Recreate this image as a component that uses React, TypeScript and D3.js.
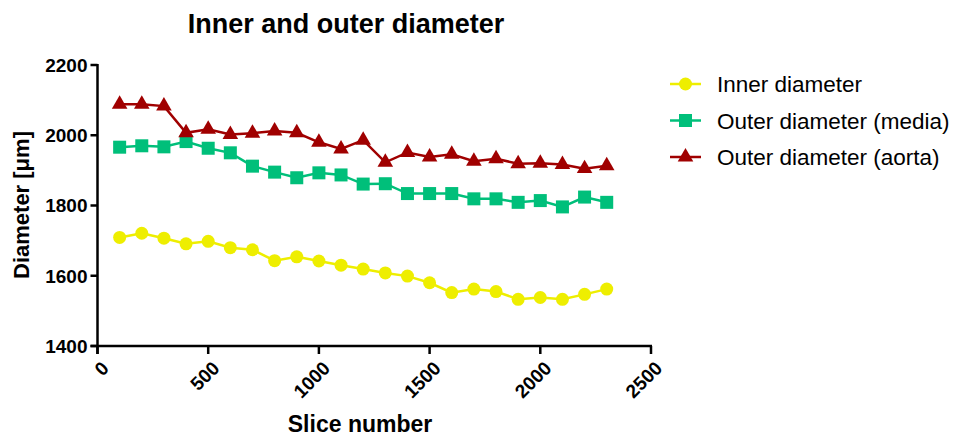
import React from "react";
import * as d3 from "d3";

const slices = [100, 200, 300, 400, 500, 600, 700, 800, 900, 1000, 1100, 1200, 1300, 1400, 1500, 1600, 1700, 1800, 1900, 2000, 2100, 2200, 2300];
const inner = [1709, 1721, 1707, 1691, 1698, 1680, 1674, 1643, 1654, 1642, 1630, 1619, 1608, 1599, 1580, 1552, 1562, 1555, 1533, 1538, 1533, 1547, 1562];
const media = [1966, 1970, 1967, 1982, 1963, 1950, 1912, 1895, 1879, 1893, 1887, 1861, 1862, 1834, 1834, 1834, 1819, 1819, 1809, 1814, 1796, 1824, 1809];
const aorta = [2088, 2088, 2083, 2007, 2017, 2002, 2006, 2012, 2007, 1980, 1961, 1986, 1923, 1951, 1938, 1946, 1926, 1933, 1919, 1920, 1917, 1905, 1913];
const seriesNames = ["Inner diameter", "Outer diameter (media)", "Outer diameter (aorta)"];
const seriesColors = ["#EEEE00", "#00BF7A", "#A00000"];
const seriesShapes = ["circle", "square", "triangle"];
const xTicks = [0, 500, 1000, 1500, 2000, 2500];
const yTicks = [1400, 1600, 1800, 2000, 2200];

const W = 954, H = 439;
const FONT = "Liberation Sans, Arial, sans-serif";

function Marker({ shape, x, y, color }: { shape: string; x: number; y: number; color: string }) {
  if (shape === "circle") return <circle cx={x} cy={y} r={6.5} fill={color} />;
  if (shape === "square") return <rect x={x - 6.5} y={y - 6.5} width={13} height={13} fill={color} />;
  const sym = d3.symbol().type(d3.symbolTriangle).size(105)();
  return <path d={sym || ""} transform={`translate(${x},${y})`} fill={color} />;
}

export default function App() {
  const x = d3.scaleLinear().domain([0, 2500]).range([97.5, 651]);
  const y = d3.scaleLinear().domain([1400, 2200]).range([346, 65]);
  const data = [inner, media, aorta];
  const line = d3.line<number>().x((_, i) => x(slices[i])).y((d) => y(d));
  const legendY = [84, 120.5, 157];

  return (
    <svg width={W} height={H} style={{ position: "absolute", left: 0, top: 0, background: "#fff" }} fontFamily={FONT}>
      <text x={346} y={33} textAnchor="middle" fontSize={27} fontWeight="bold">Inner and outer diameter</text>
      {/* Y axis */}
      <line x1={x(0)} x2={x(0)} y1={y(2200) - 1} y2={y(1400) + 8} stroke="#000" strokeWidth={2.5} />
      {yTicks.map((t) => (
        <g key={t}>
          <line x1={x(0) - 7} x2={x(0)} y1={y(t)} y2={y(t)} stroke="#000" strokeWidth={2.5} />
          <text x={x(0) - 10} y={y(t)} dy="0.36em" textAnchor="end" fontSize={19} fontWeight="bold">{t}</text>
        </g>
      ))}
      {/* X axis */}
      <line x1={x(0) - 7} x2={x(2500) + 1} y1={y(1400)} y2={y(1400)} stroke="#000" strokeWidth={2.5} />
      {xTicks.map((t) => (
        <g key={t}>
          <line x1={x(t)} x2={x(t)} y1={y(1400)} y2={y(1400) + 8} stroke="#000" strokeWidth={2.5} />
          <text transform={`translate(${x(t) + 3},${y(1400) + 14}) rotate(-45)`} textAnchor="end" dy="0.7em" fontSize={19} fontWeight="bold">{t}</text>
        </g>
      ))}
      <text x={360} y={432} textAnchor="middle" fontSize={23} fontWeight="bold">Slice number</text>
      <text transform={`translate(29,205) rotate(-90)`} textAnchor="middle" fontSize={22} fontWeight="bold">Diameter [μm]</text>
      {/* Series */}
      {data.map((vals, si) => (
        <g key={si}>
          <path d={line(vals) || ""} fill="none" stroke={seriesColors[si]} strokeWidth={2.5} />
          {vals.map((v, i) => (
            <Marker key={i} shape={seriesShapes[si]} x={x(slices[i])} y={y(v)} color={seriesColors[si]} />
          ))}
        </g>
      ))}
      {/* Legend */}
      {seriesNames.map((n, i) => (
        <g key={n}>
          <line x1={670} x2={701} y1={legendY[i]} y2={legendY[i]} stroke={seriesColors[i]} strokeWidth={2.5} />
          <Marker shape={seriesShapes[i]} x={685.5} y={legendY[i]} color={seriesColors[i]} />
          <text x={717} y={legendY[i]} dy="0.36em" fontSize={22.5}>{n}</text>
        </g>
      ))}
    </svg>
  );
}
